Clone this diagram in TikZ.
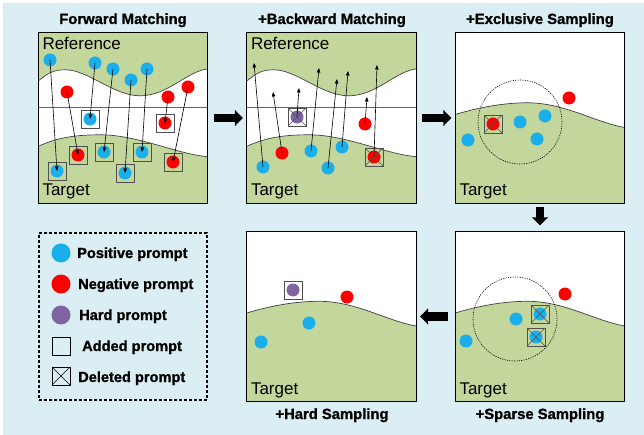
\documentclass[tikz,border=0pt]{standalone}
\usepackage{fontspec}
\setmainfont{Liberation Sans}
\newfontfamily\heavyfont{Liberation Sans Bold}[FakeBold=1.2]
\usetikzlibrary{arrows.meta}
\definecolor{bgblue}{HTML}{DAEEF3}
\definecolor{gfill}{HTML}{C3D69B}
\definecolor{pblue}{HTML}{1AAFEB}
\definecolor{pred}{HTML}{FF0000}
\definecolor{ppurple}{HTML}{8064A2}
\definecolor{boxgray}{HTML}{505050}
\tikzset{
  panel/.style={fill=white, minimum width=169, minimum height=170, inner sep=0},
  border/.style={draw=black, line width=1.3pt},
  wave/.style={draw=black!75, line width=0.7pt},
  hline/.style={draw=black!60, line width=0.7pt},
  dotp/.style={circle, fill=pblue, minimum size=13, inner sep=0},
  dotn/.style={circle, fill=pred, minimum size=13, inner sep=0},
  doth/.style={circle, fill=ppurple, minimum size=13, inner sep=0},
  addbox/.style={draw=boxgray, line width=0.7pt, minimum size=18, inner sep=0},
  delbox/.style={addbox, path picture={\draw[boxgray, line width=0.6pt]
     (path picture bounding box.north west) -- (path picture bounding box.south east)
     (path picture bounding box.south west) -- (path picture bounding box.north east);}},
  match/.style={draw=black, line width=0.6pt, -{Triangle[length=4.5pt,width=3.5pt]}},
  bigarrow/.style={draw=black, line width=8.5pt, -{Triangle[length=8pt,width=16pt]}},
  scircle/.style={circle, draw=black, dash pattern=on 1.2pt off 1.2pt, line width=0.6pt, minimum size=84, inner sep=0},
  lbl/.style={anchor=base west, inner sep=0, font=\fontsize{17}{19}\selectfont},
  ttl/.style={anchor=base, inner sep=0, font=\heavyfont\fontsize{14.8}{16}\selectfont},
  legtxt/.style={anchor=base west, inner sep=0, font=\heavyfont\fontsize{14.6}{16}\selectfont},
}
\newcommand\mybgmatch{%
  \fill[gfill] (0,0) rectangle (170,170);
  \fill[white] (-1,49) .. controls (10,40) and (15,37) .. (27,37) .. controls (50,37) and (75,63) .. (102,63) .. controls (130,63) and (150,37) .. (171,36)
    -- (171,124) .. controls (140,122) and (100,102) .. (62,102) .. controls (40,102) and (20,104) .. (-1,114) -- cycle;
  \draw[wave] (-1,49) .. controls (10,40) and (15,37) .. (27,37) .. controls (50,37) and (75,63) .. (102,63) .. controls (130,63) and (150,37) .. (171,36);
  \draw[wave] (-1,114) .. controls (20,104) and (40,102) .. (62,102) .. controls (100,102) and (140,122) .. (171,124);
  \draw[hline] (0,75) -- (170,75);
}
\newcommand\mybgsample{%
  \fill[gfill] (-1,82) .. controls (25,74) and (50,70) .. (72,70) .. controls (110,70) and (140,90) .. (171,95) -- (171,171) -- (-1,171) -- cycle;
  \draw[wave] (-1,82) .. controls (25,74) and (50,70) .. (72,70) .. controls (110,70) and (140,90) .. (171,95);
}
\begin{document}
\begin{tikzpicture}[x=1pt,y=-1pt]
\useasboundingbox (0,0) rectangle (644,435);
\fill[bgblue] (3,3) rectangle (644,435);

% ---------- titles ----------
\node[ttl] (t1) at (123,24) {Forward Matching};
\node[ttl] (t2) at (332,24) {+Backward Matching};
\node[ttl] (t3) at (540,24) {+Exclusive Sampling};
\node[ttl] (t5) at (332,419) {+Hard Sampling};
\node[ttl] (t6) at (540,419) {+Sparse Sampling};

% ---------- panel 1 ----------
\node[panel] (P1) at (123,118) {};
\begin{scope}
  \clip (P1.north west) rectangle (P1.south east);
  \begin{scope}[shift={(P1.north west)}]
    \mybgmatch
    \node[lbl] (r1) at (4,17) {Reference};
    \node[lbl] (g1) at (4,163) {Target};
  \end{scope}
\end{scope}
\draw[border] (P1.north west) rectangle (P1.south east);

\node[dotp] (a1) at (50,60) {};
\node[dotn] (a2) at (67,92) {};
\node[dotp] (a3) at (95,63) {};
\node[dotp] (a4) at (113,69) {};
\node[dotp] (a5) at (131,80) {};
\node[dotp] (a6) at (147,69) {};
\node[dotn] (a7) at (168,97) {};
\node[dotn] (a8) at (188,87) {};
\node[dotp] (b1) at (57,171) {};
\node[dotn] (b2) at (78,155) {};
\node[dotp] (b3) at (90,119) {};
\node[dotp] (b4) at (104,152) {};
\node[dotp] (b5) at (125,173) {};
\node[dotp] (b6) at (142,152) {};
\node[dotn] (b7) at (165,123) {};
\node[dotn] (b8) at (173,162) {};
\foreach \i in {1,...,8}{
  \node[addbox] (bb\i) at (b\i) {};
  \draw[match] (a\i.center) -- (b\i.center);
}

% ---------- panel 2 ----------
\node[panel] (P2) at (331.5,118) {};
\begin{scope}
  \clip (P2.north west) rectangle (P2.south east);
  \begin{scope}[shift={(P2.north west)}]
    \mybgmatch
    \node[lbl] (r2) at (4,17) {Reference};
    \node[lbl] (g2) at (4,163) {Target};
  \end{scope}
\end{scope}
\draw[border] (P2.north west) rectangle (P2.south east);

\node[dotp] (u1) at (263,167) {};
\node[dotn] (u2) at (282,153) {};
\node[doth] (u3) at (297,117) {};
\node[dotp] (u4) at (311,151) {};
\node[dotp] (u5) at (328,168) {};
\node[dotp] (u6) at (342,147) {};
\node[dotn] (u7) at (365,124) {};
\node[dotn] (u8) at (374,157) {};
\node[delbox] (ux3) at (u3) {};
\node[delbox] (ux8) at (u8) {};
\coordinate (e1) at (254,63);
\coordinate (e2) at (273,92);
\coordinate (e3) at (299,88);
\coordinate (e4) at (319,68);
\coordinate (e5) at (337,79);
\coordinate (e6) at (348,71);
\coordinate (e7) at (367,97);
\coordinate (e8) at (377,65);
\foreach \i in {1,...,8}{
  \draw[match] (u\i.center) -- (e\i);
}

% ---------- panel 3 ----------
\node[panel] (P3) at (540,118) {};
\begin{scope}
  \clip (P3.north west) rectangle (P3.south east);
  \begin{scope}[shift={(P3.north west)}]
    \mybgsample
    \node[lbl] (g3) at (4,163) {Target};
  \end{scope}
\end{scope}
\draw[border] (P3.north west) rectangle (P3.south east);
\node[scircle] (c3) at (520,122) {};
\node[dotn] (x1) at (493,124) {};
\node[delbox] (xb1) at (x1) {};
\node[dotp] (x2) at (520,122) {};
\node[dotp] (x3) at (545,116) {};
\node[dotp] (x4) at (537,139) {};
\node[dotp] (x5) at (468,140) {};
\node[dotn] (x6) at (569,98) {};

% ---------- panel 6 (sparse) ----------
\node[panel] (P6) at (540,316.5) {};
\begin{scope}
  \clip (P6.north west) rectangle (P6.south east);
  \begin{scope}[shift={(P6.north west)}]
    \mybgsample
    \node[lbl] (g6) at (4,163) {Target};
  \end{scope}
\end{scope}
\draw[border] (P6.north west) rectangle (P6.south east);
\node[scircle] (c6) at (515,319) {};
\node[dotp] (s1) at (466,341) {};
\node[dotp] (s2) at (516,319) {};
\node[dotp] (s3) at (540,314) {};
\node[dotp] (s4) at (536,337) {};
\node[dotn] (s5) at (565,294) {};
\node[delbox] (sb3) at (s3) {};
\node[delbox] (sb4) at (s4) {};

% ---------- panel 5 (hard) ----------
\node[panel] (P5) at (331.5,316.5) {};
\begin{scope}
  \clip (P5.north west) rectangle (P5.south east);
  \begin{scope}[shift={(P5.north west)}]
    \mybgsample
    \node[lbl] (g5) at (4,163) {Target};
  \end{scope}
\end{scope}
\draw[border] (P5.north west) rectangle (P5.south east);
\node[doth] (h1) at (293,290) {};
\node[addbox] (hb1) at (h1) {};
\node[dotn] (h2) at (347,297) {};
\node[dotp] (h3) at (309,323) {};
\node[dotp] (h4) at (261,342) {};

% ---------- legend ----------
\node[draw=black, line width=1.5pt, dash pattern=on 3pt off 2pt, minimum width=168, minimum height=167, inner sep=0] (L) at (123,316.5) {};
\node[dotp, minimum size=19] (l1) at (61,253) {};
\node[dotn, minimum size=19] (l2) at (61,284) {};
\node[doth, minimum size=19] (l3) at (61,315) {};
\node[draw=black, line width=0.8pt, minimum size=18, inner sep=0] (l4) at (61,346) {};
\node[draw=black, line width=0.8pt, minimum size=18, inner sep=0,
  path picture={\draw[black, line width=0.6pt]
     (path picture bounding box.north west) -- (path picture bounding box.south east)
     (path picture bounding box.south west) -- (path picture bounding box.north east);}] (l5) at (61,376) {};
\node[legtxt] (lt1) at (77,258) {Positive prompt};
\node[legtxt] (lt2) at (78,289) {Negative prompt};
\node[legtxt] (lt3) at (79,320) {Hard prompt};
\node[legtxt] (lt4) at (82,351) {Added prompt};
\node[legtxt] (lt5) at (78,382) {Deleted prompt};

% ---------- flow arrows ----------
\draw[bigarrow, shorten <=6pt, shorten >=4pt] (P1.east) -- (P2.west);
\draw[bigarrow, shorten <=6pt, shorten >=4pt] (P2.east) -- (P3.west);
\draw[bigarrow, line width=8pt, shorten <=4pt, shorten >=6pt] (P3.south) -- (P6.north);
\draw[bigarrow, shorten <=7pt, shorten >=4pt] (P6.west) -- (P5.east);
\end{tikzpicture}
\end{document}
